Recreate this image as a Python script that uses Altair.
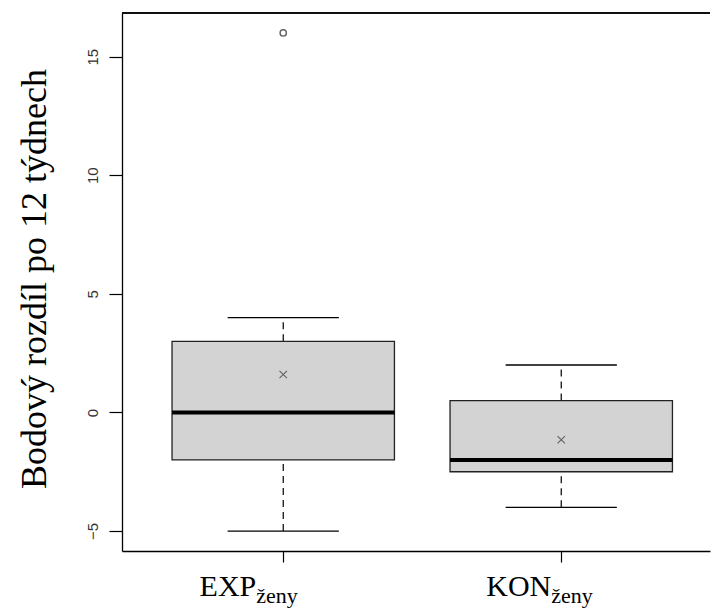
import altair as alt
import pandas as pd

# ---- data ----
groups = ["EXP", "KON"]
group_sub = ["ženy", "ženy"]
group_pos = [1, 2]
q1 = [-2.0, -2.5]
median = [0.0, -2.0]
q3 = [3.0, 0.5]
whisker_lo = [-5.0, -4.0]
whisker_hi = [4.0, 2.0]
means = [1.6, -1.15]
outlier_group = [1]
outlier_value = [16.0]

y_ticks = [-5, 0, 5, 10, 15]
y_title = ["Bodový rozdíl po 12 týdnech"]

W, H = 588, 538
BOX_HALF = 0.4
CAP_HALF = 0.2
LABEL_DX = {"EXP": -27, "KON": -10}
SERIF = "Liberation Serif"

df = pd.DataFrame({
    "group": groups, "sub": group_sub, "pos": group_pos,
    "q1": q1, "median": median, "q3": q3,
    "lo": whisker_lo, "hi": whisker_hi, "mean": means,
})
out_df = pd.DataFrame({"pos": outlier_group, "value": outlier_value})
title_df = pd.DataFrame({"t": y_title})

xscale = alt.Scale(domain=[0.42, 0.42 + W / 278.0], nice=False, zero=False)
yscale = alt.Scale(domain=[-5.84, 16.84], nice=False, zero=False)

base = alt.Chart(df).transform_calculate(
    bx0=f"datum.pos - {BOX_HALF}", bx1=f"datum.pos + {BOX_HALF}",
    cx0=f"datum.pos - {CAP_HALF}", cx1=f"datum.pos + {CAP_HALF}",
)

xaxis = alt.Axis(values=[1, 2], labels=False, title=None, grid=False,
                 tickSize=11, tickColor="black", domainColor="black",
                 domainWidth=1.3, tickWidth=1.2)
yaxis = alt.Axis(values=y_ticks, grid=False, title=None,
                 tickSize=13, tickColor="black", domainColor="black",
                 domainWidth=1.3, tickWidth=1.2,
                 labelAngle=270, labelAlign="center", labelBaseline="bottom",
                 labelPadding=9, labelFont="Liberation Sans", labelFontSize=15,
                 labelColor="#333333")

whisk_low = base.mark_rule(color="black", strokeDash=[7, 5], strokeWidth=1.2).encode(
    x=alt.X("pos:Q", scale=xscale, axis=xaxis),
    y=alt.Y("lo:Q", scale=yscale, axis=yaxis),
    y2="q1:Q",
)
whisk_high = base.mark_rule(color="black", strokeDash=[7, 5], strokeWidth=1.2).encode(
    x="pos:Q", y="q3:Q", y2="hi:Q",
)
cap_low = base.mark_rule(color="black", strokeWidth=1.3).encode(
    x="cx0:Q", x2="cx1:Q", y="lo:Q")
cap_high = base.mark_rule(color="black", strokeWidth=1.3).encode(
    x="cx0:Q", x2="cx1:Q", y="hi:Q")
box = base.mark_rect(fill="#D3D3D3", stroke="#222222", strokeWidth=1.3).encode(
    x="bx0:Q", x2="bx1:Q", y="q1:Q", y2="q3:Q")
med = base.mark_rule(color="black", strokeWidth=4).encode(
    x="bx0:Q", x2="bx1:Q", y="median:Q")
mean_pt = base.mark_point(shape="M-1,-1L1,1M-1,1L1,-1", size=55, filled=False,
                          color="#333333", strokeWidth=1.1).encode(
    x="pos:Q", y="mean:Q")
outl = alt.Chart(out_df).mark_point(shape="circle", size=40, filled=False,
                                    color="#222222", strokeWidth=1.4).encode(
    x="pos:Q", y="value:Q")

top_frame = alt.Chart(df).mark_rule(color="black", strokeWidth=1.3).encode(
    x=alt.value(0), x2=alt.value(W), y=alt.value(0))

title_mark = alt.Chart(title_df).mark_text(
    font=SERIF, fontSize=36, angle=270, align="center",
    baseline="middle", color="black").encode(
    x=alt.value(-87), y=alt.value(H / 2 - 3), text="t:N")

label_layers = []
for g in groups:
    dx = LABEL_DX[g]
    b = base.transform_filter(alt.datum.group == g)
    label_layers.append(
        b.mark_text(font=SERIF, fontSize=30, align="right",
                    baseline="alphabetic", dx=dx, color="black").encode(
            x="pos:Q", y=alt.value(H + 45), text="group:N"))
    label_layers.append(
        b.mark_text(font=SERIF, fontSize=22, align="left",
                    baseline="alphabetic", dx=dx, color="black").encode(
            x="pos:Q", y=alt.value(H + 52), text="sub:N"))

chart = alt.layer(
    whisk_low, whisk_high, cap_low, cap_high, box, med, mean_pt, outl,
    top_frame, title_mark, *label_layers,
).properties(
    width=W, height=H,
    autosize=alt.AutoSizeParams(type="none"),
    padding={"left": 114, "top": 5, "right": 1, "bottom": 60},
).configure_view(stroke=None)

chart.save("out.html", embed_options={"renderer": "svg", "actions": False})
